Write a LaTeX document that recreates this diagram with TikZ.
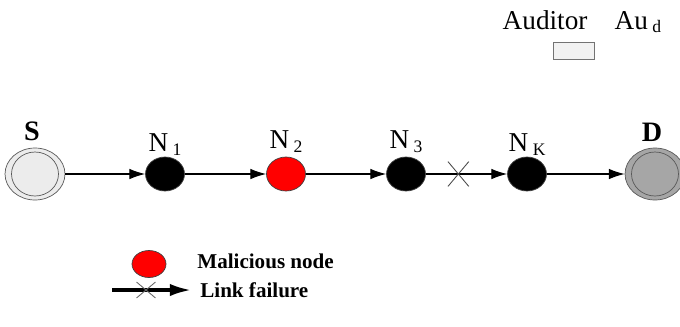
\documentclass[tikz,border=0pt]{standalone}
\usepackage{fontspec}
\setmainfont{Liberation Serif}
\usetikzlibrary{shapes,arrows,arrows.meta,positioning}

\newcommand{\lowsub}[1]{\,\raisebox{-0.3ex}{\fontsize{10}{10}\selectfont #1}}

\begin{document}
\begin{tikzpicture}[
    x=0.02cm, y=-0.02cm,
    hop/.style={ellipse, draw=black!75, fill=black, minimum width=0.78cm, minimum height=0.68cm, inner sep=0pt},
    endpt/.style={ellipse, draw=black!65, minimum width=1.2cm, minimum height=1.04cm, inner sep=0pt},
    endin/.style={ellipse, draw=black!65, minimum width=0.94cm, minimum height=0.88cm, inner sep=0pt},
    tag/.style={inner sep=0pt, font=\fontsize{15.5}{18}\selectfont},
    boldtag/.style={inner sep=0pt, font=\fontsize{16}{18}\selectfont\bfseries},
    link/.style={-{Latex[length=9pt, width=6pt]}, line width=0.6pt},
    failmark/.style={cross out, draw=black!70, minimum width=0.4cm, minimum height=0.48cm, inner sep=0pt, line width=0.5pt},
    keytext/.style={anchor=base west, inner sep=0pt, font=\fontsize{12}{14}\selectfont\bfseries}
]
    \useasboundingbox (0,0) rectangle (680,326);

    % source and destination
    \node[endpt, fill=gray!15] (S) at (35,174) {};
    \node[endin, fill=gray!15] (S in) at (S) {};
    \node[endpt, fill=gray!70] (D) at (655,174) {};
    \node[endin, fill=gray!70] (D in) at (D) {};
    \node[boldtag] (S label) at (32,131) {S};
    \node[boldtag] (D label) at (652,132) {D};

    % hops on the route
    \node[hop] (n1) at (165,174) {};
    \node[hop, fill=red] (n2) at (286,174) {};
    \node[hop] (n3) at (406,174) {};
    \node[hop] (nk) at (527,174) {};

    \node[tag, above=0.02cm of n1] (n1 label) {N\lowsub{1}};
    \node[tag, above=0.08cm of n2] (n2 label) {N\lowsub{2}};
    \node[tag, above=0.08cm of n3] (n3 label) {N\lowsub{3}};
    \node[tag, above=0.02cm of nk] (nk label) {N\lowsub{K}};

    \draw[link] (S) -- (n1);
    \draw[link] (n1) -- (n2);
    \draw[link] (n2) -- (n3);
    \draw[link] (n3) -- node[failmark, pos=0.4] (fail) {} (nk);
    \draw[link] (nk.east) -- (D.west);

    % auditor
    \node[tag, anchor=base] (auditor) at (582,29) {Auditor\quad Au\lowsub{d}};
    \node[draw=black!55, fill=gray!10, minimum width=0.82cm, minimum height=0.34cm, inner sep=0pt] (aud box) at (574,51) {};

    % legend
    \node[hop, fill=red, minimum width=0.68cm, minimum height=0.54cm] (mal key) at (149,264) {};
    \node[keytext] (mal text) at (197,268) {Malicious node};

    \coordinate (lf start) at (112,290);
    \node[keytext] (lf text) at (200,297) {Link failure};
    \draw[-{Latex[length=12pt, width=7pt]}, line width=1.8pt] (lf start) -- ([xshift=-0.18cm]lf text.west |- lf start);
    \node[failmark, draw=black!60, minimum width=0.36cm, minimum height=0.3cm] (lf cut) at (146,290) {};
\end{tikzpicture}
\end{document}
